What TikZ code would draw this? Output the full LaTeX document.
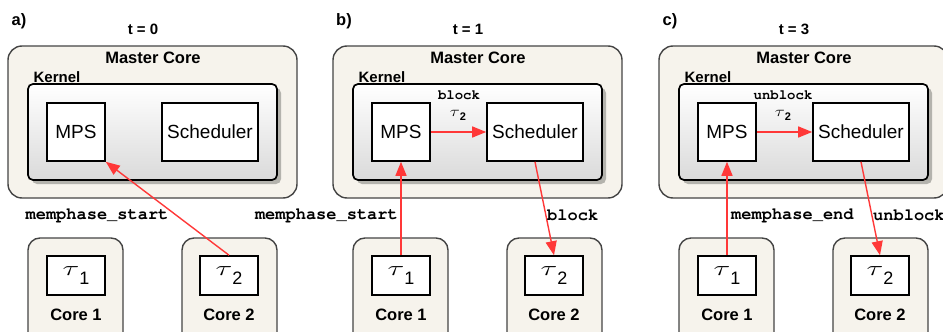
\documentclass[tikz,border=0pt]{standalone}
\usepackage{fontspec}
\setmainfont{Liberation Sans}
\setmonofont{TeX Gyre Cursor}
\usetikzlibrary{arrows.meta,shadows}
\definecolor{beige}{HTML}{F6F3EC}
\definecolor{arrred}{HTML}{FF3838}
\definecolor{shadowc}{HTML}{B4B3AD}
\definecolor{kbot}{HTML}{DADADA}
\definecolor{mborder}{HTML}{444444}
\newcommand\bigtau[1]{\scalebox{1.5}[1]{\fontsize{22}{22}\selectfont$\tau$}\raisebox{-8.5pt}{\fontsize{18}{18}\selectfont #1}}
\newcommand\smalltau[1]{\scalebox{1.3}[1]{\fontsize{14}{14}\selectfont$\tau$}\raisebox{-4pt}{\fontsize{11}{11}\selectfont\bfseries #1}}
\tikzset{
  master/.style={draw=mborder, line width=1.4pt, fill=beige, rounded corners=14pt, inner sep=0pt},
  corebox/.style={draw=mborder, line width=1.4pt, fill=beige, rounded corners=12pt, inner sep=0pt},
  kernel/.style={draw=black, line width=1.7pt, rounded corners=5pt, top color=white, bottom color=kbot, inner sep=0pt,
    drop shadow={shadow xshift=4pt, shadow yshift=-4pt, fill=shadowc, opacity=1}},
  blk/.style={draw=black, line width=1.6pt, fill=white, inner sep=0pt},
  arr/.style={draw=arrred, line width=1.4pt, -{Triangle[length=14pt,width=11pt]}},
  txt/.style={inner sep=0pt},
  bigb/.style={txt, font=\fontsize{16.5}{16.5}\selectfont\bfseries},
  medb/.style={txt, font=\fontsize{15}{15}\selectfont\bfseries},
  reg/.style={txt, font=\fontsize{19}{19}\selectfont},
  mono/.style={txt, font=\fontsize{17}{17}\selectfont\ttfamily\bfseries},
  smono/.style={txt, font=\fontsize{14}{14}\selectfont\ttfamily\bfseries},
}
\newcommand\drawpanel[4]{%
\begin{scope}[xshift=#2pt]
  \node[bigb] (#1-lab) at (19,21) {#3};
  \node[medb] (#1-t) at (143,29) {t = #4};
  \node[master, minimum width=289pt, minimum height=152pt] (#1-mc) at (152.5,122) {};
  \node[bigb] (#1-mct) at (153,58) {Master Core};
  \node[medb] (#1-kt) at (57,77) {Kernel};
  \node[kernel, minimum width=249pt, minimum height=96pt] (#1-k) at (152.5,132) {};
  \node[blk, minimum width=58pt, minimum height=58pt] (#1-mps) at (76,132) {};
  \node[reg] at (#1-mps) {MPS};
  \node[blk, minimum width=96pt, minimum height=58pt] (#1-sch) at (210,132) {};
  \node[reg] at (#1-sch) {Scheduler};
  \node[corebox, minimum width=95pt, minimum height=110pt] (#1-c1) at (75.5,293) {};
  \node[blk, minimum width=58pt, minimum height=39pt] (#1-t1) at (76,275.5) {\bigtau{1}};
  \node[bigb] (#1-c1t) at (76,315) {Core 1};
  \node[corebox, minimum width=95pt, minimum height=110pt] (#1-c2) at (229.5,293) {};
  \node[blk, minimum width=58pt, minimum height=39pt] (#1-t2) at (229,275.5) {\bigtau{2}};
  \node[bigb] (#1-c2t) at (229,315) {Core 2};
\end{scope}}
\begin{document}
\begin{tikzpicture}[x=1pt, y=-1pt]
\useasboundingbox (0,0) rectangle (943,332);
\clip (0,0) rectangle (943,332);
\drawpanel{a}{0}{a)}{0}
\drawpanel{b}{325}{b)}{1}
\drawpanel{c}{651}{c)}{3}
% panel a
\draw[arr] (a-t2.north) -- (a-mps.south east);
\node[mono] (a-ms) at (97,216) {memphase\_start};
% panel b
\draw[arr] (b-t1.north) -- (b-mps.south);
\draw[arr] (b-mps.east) -- (b-sch.west);
\draw[arr] (b-sch.south) -- (b-t2.north);
\node[mono, anchor=east] (b-ms) at (398,216) {memphase\_start};
\node[mono, anchor=west] (b-bl) at (547,215) {block};
\node[smono] (b-ib) at (459,95) {block};
\node[txt] (b-it) at (458,115) {\smalltau{2}};
% panel c
\draw[arr] (c-t1.north) -- (c-mps.south);
\draw[arr] (c-mps.east) -- (c-sch.west);
\draw[arr] (c-sch.south) -- (c-t2.north);
\node[mono, anchor=west] (c-me) at (731,216) {memphase\_end};
\node[mono, anchor=west] (c-ub) at (873,215) {unblock};
\node[smono] (c-ib) at (783,95) {unblock};
\node[txt] (c-it) at (783,115) {\smalltau{2}};
\end{tikzpicture}
\end{document}
